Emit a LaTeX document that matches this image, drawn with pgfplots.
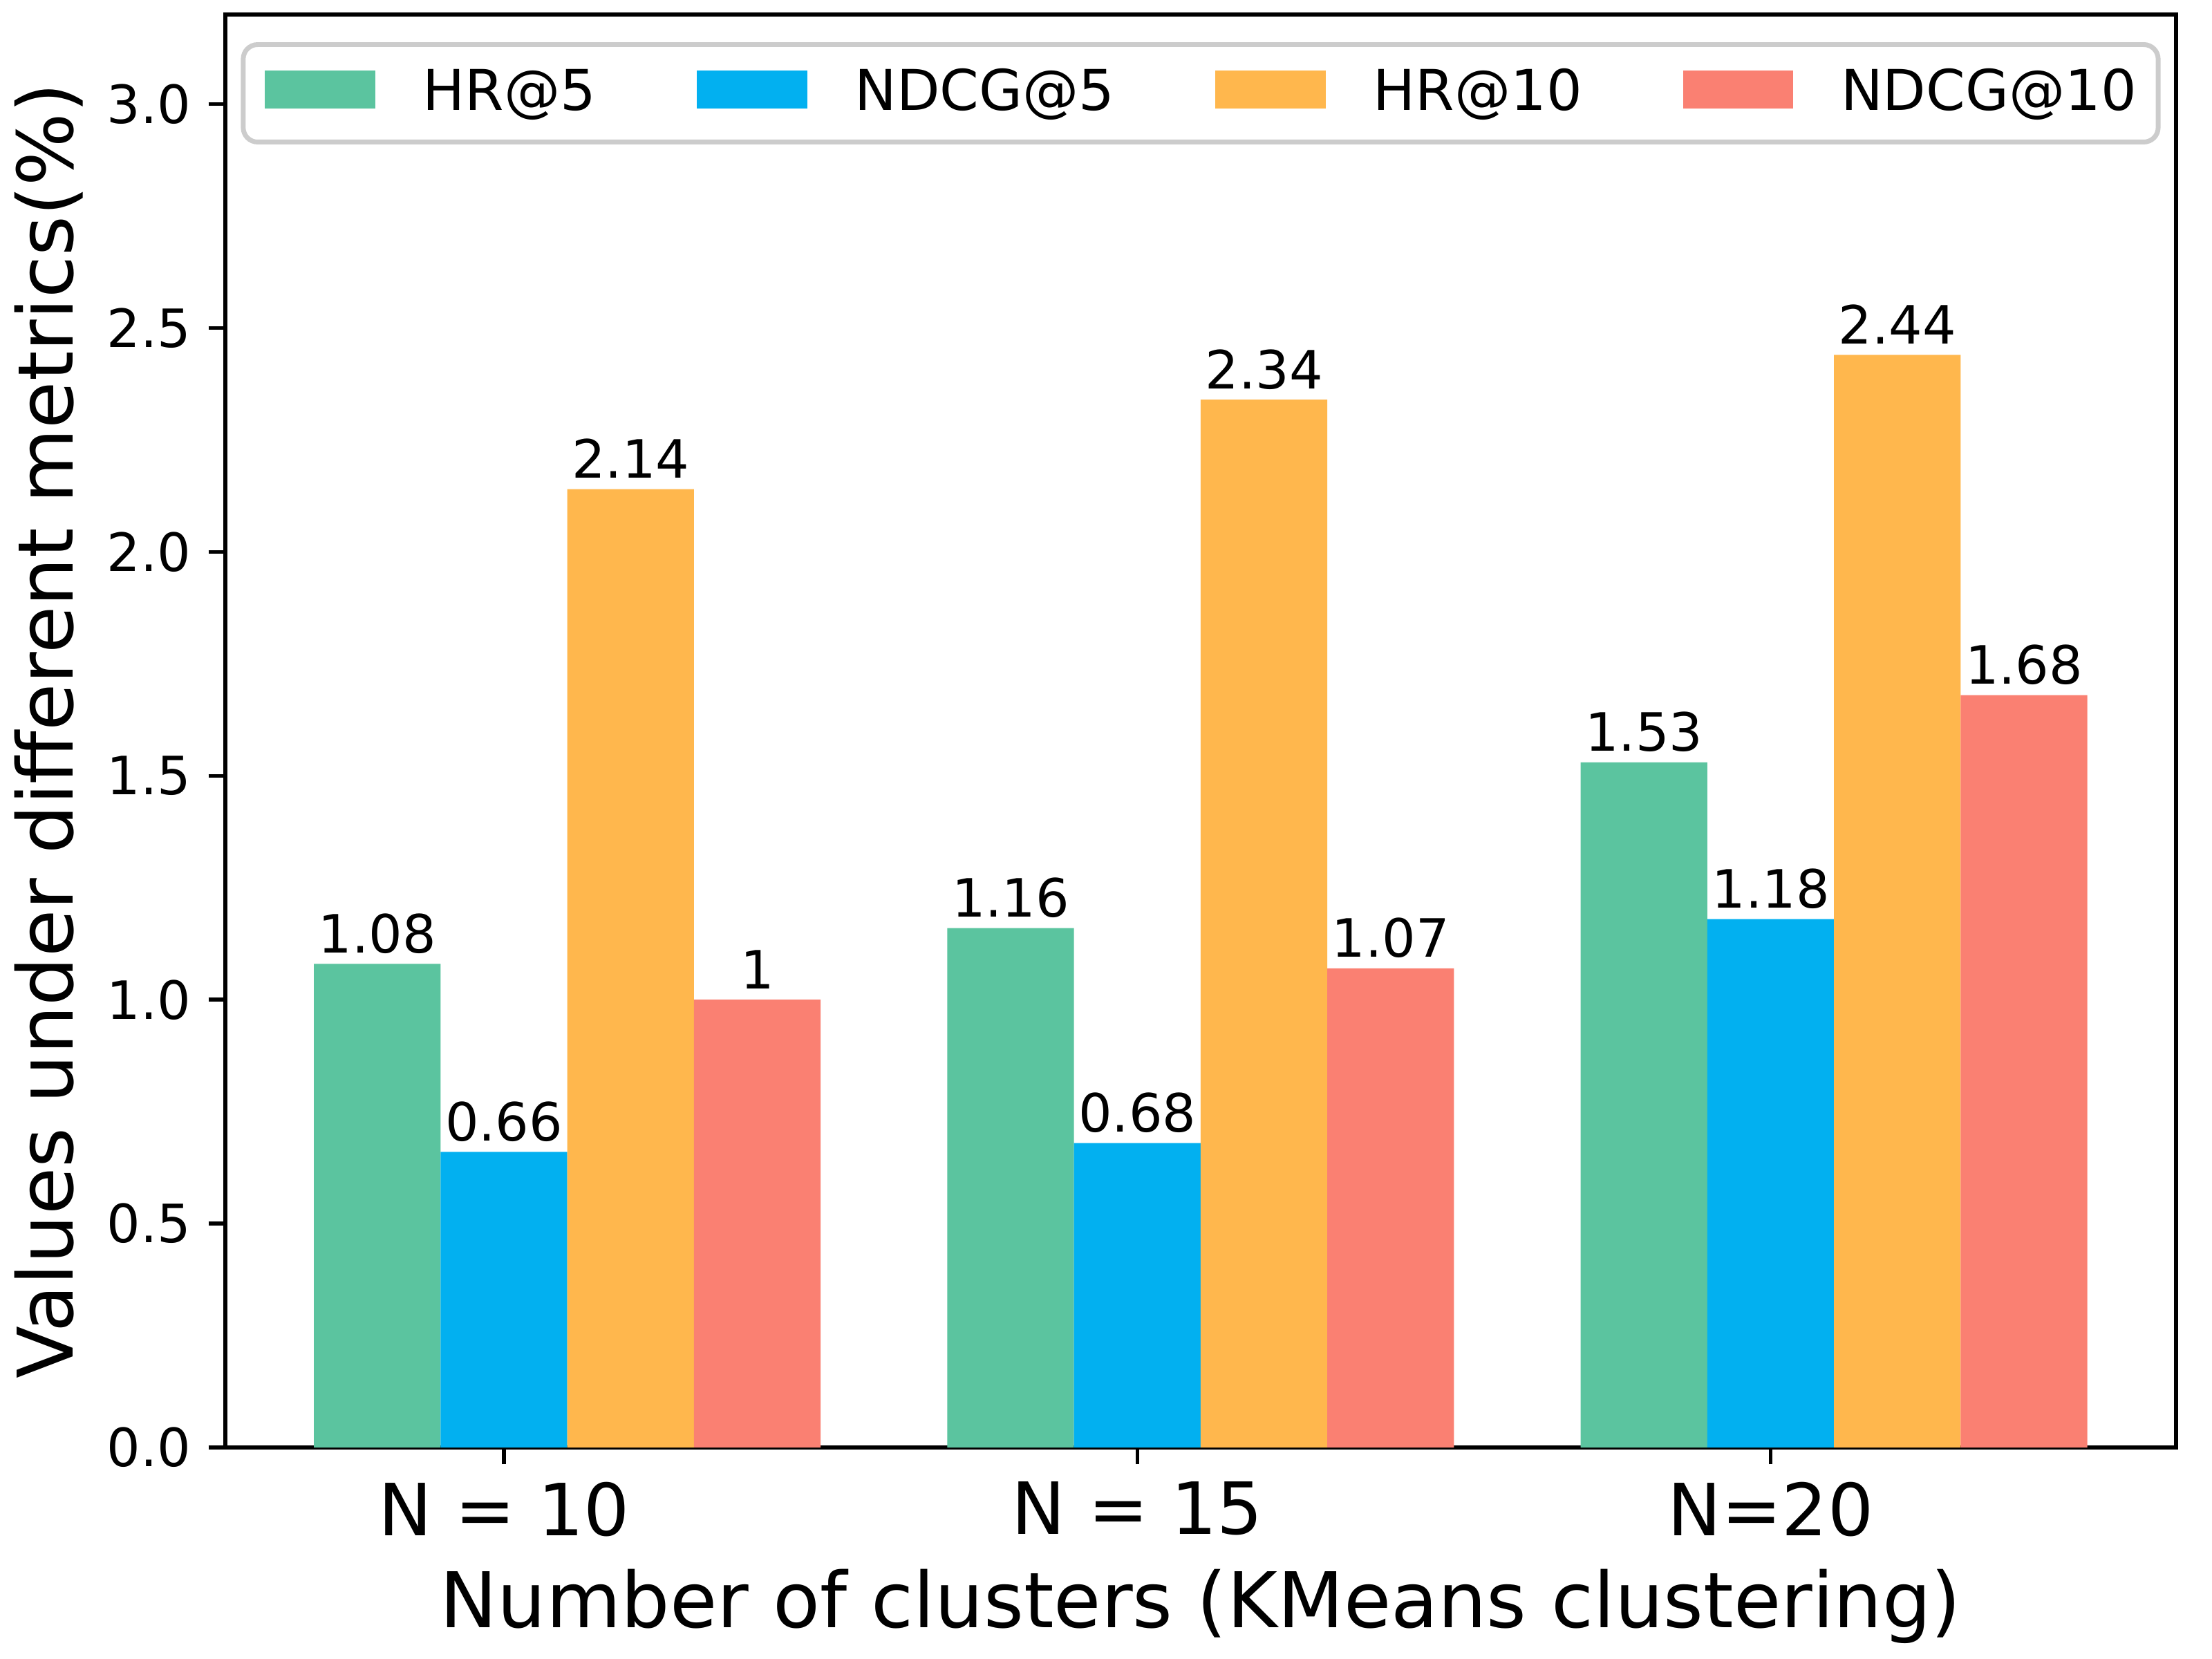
\documentclass[border=0pt]{standalone}
\usepackage{fontspec}
\setmainfont{DejaVu Sans}
\usepackage{pgfplots}
\pgfplotsset{compat=1.18}
\definecolor{cgreen}{HTML}{5BC49F}
\definecolor{cblue}{HTML}{02B0F0}
\definecolor{corange}{HTML}{FFB74D}
\definecolor{csalmon}{HTML}{FA8072}
\begin{document}
\begin{tikzpicture}
\path[use as bounding box] (0,0) rectangle (460.8bp,345.6bp);
\begin{axis}[
  at={(46.94bp,44.06bp)}, anchor=south west,
  scale only axis, width=406.37bp, height=298.51bp,
  xmin=-0.44, xmax=2.64, ymin=0, ymax=3.2,
  axis line style={line width=0.8bp},
  tick align=outside, tick pos=left,
  major tick length=3.5bp,
  every tick/.style={black, line width=0.8bp},
  xtick={0,1,2}, xticklabels={N = 10, N = 15, N=20},
  ytick={0,0.5,1,1.5,2,2.5,3},
  /pgf/number format/fixed, /pgf/number format/fixed zerofill,
  /pgf/number format/precision=1, /pgf/number format/assume math mode=true,
  yticklabel style={font=\fontsize{11bp}{13bp}\selectfont, inner sep=0pt, xshift=-3.5bp},
  xticklabel style={font=\fontsize{15bp}{18bp}\selectfont, inner sep=0pt, yshift=-3.5bp},
  xlabel={Number of clusters (KMeans clustering)},
  ylabel={Values under different metrics(\%)},
  xlabel style={font=\fontsize{16bp}{19bp}\selectfont, at={(axis description cs:0.5,0)}, anchor=base, yshift=-37.5bp, inner sep=0pt},
  ylabel style={font=\fontsize{16bp}{19bp}\selectfont, at={(axis description cs:0,0.5)}, anchor=base, yshift=31.8bp, inner sep=0pt},
  legend columns=4,
  legend style={at={(0.5,1)}, anchor=north, yshift=-5.76bp, draw=black!20, line width=1bp, rounded corners=3bp, fill=white,
    inner xsep=4.5bp, inner ysep=5.2bp, font=\fontsize{11.7bp}{14bp}\selectfont,
    nodes={inner sep=0pt, text height=8.5bp, text depth=1.4bp},
    /tikz/every odd column/.append style={column sep=9.9bp},
    /tikz/every even column/.append style={column sep=21bp}},
  legend image code/.code={\fill[#1, draw=none, sharp corners] (0bp,-3.14bp) rectangle (23bp,4.78bp);},
  point meta=explicit symbolic,
  nodes near coords={\pgfplotspointmeta},
  nodes near coords style={anchor=base, inner sep=0pt, yshift=2.3bp, font=\fontsize{11bp}{13bp}\selectfont, black},
]
\addplot[ybar, bar width=0.2, bar shift=0, fill=cgreen, draw=none] coordinates {(-0.2,1.08) [1.08] (0.8,1.16) [1.16] (1.8,1.53) [1.53]};
\addlegendentry{HR@5}
\addplot[ybar, bar width=0.2, bar shift=0, fill=cblue, draw=none] coordinates {(0,0.66) [0.66] (1,0.68) [0.68] (2,1.18) [1.18]};
\addlegendentry{NDCG@5}
\addplot[ybar, bar width=0.2, bar shift=0, fill=corange, draw=none] coordinates {(0.2,2.14) [2.14] (1.2,2.34) [2.34] (2.2,2.44) [2.44]};
\addlegendentry{HR@10}
\addplot[ybar, bar width=0.2, bar shift=0, fill=csalmon, draw=none] coordinates {(0.4,1) [1] (1.4,1.07) [1.07] (2.4,1.68) [1.68]};
\addlegendentry{NDCG@10}
\end{axis}
\end{tikzpicture}
\end{document}
